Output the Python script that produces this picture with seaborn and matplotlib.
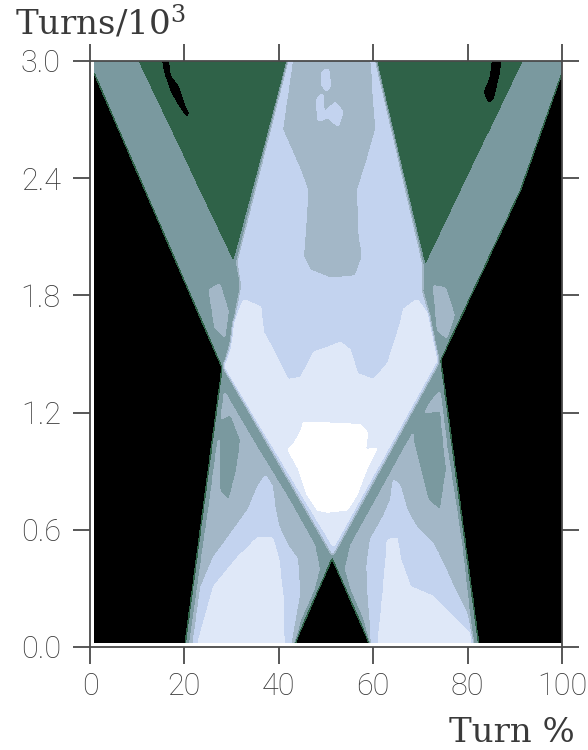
import numpy as np
import matplotlib
matplotlib.use("Agg")
import matplotlib.pyplot as plt
from matplotlib.path import Path
import seaborn as sns

# ---------------------------------------------------------------------------
# Intensity map: 7 discrete levels (0 = empty ... 6 = peak)
# ---------------------------------------------------------------------------
level_colors = ["#000000", "#2f6248", "#7a999f", "#a3b7c7",
                "#c3d3ef", "#dfe8f8", "#ffffff"]

x_ticks = [0, 20, 40, 60, 80, 100]
y_ticks = [0.0, 0.6, 1.2, 1.8, 2.4, 3.0]
y_tick_labels = ["0.0", "0.6", "1.2", "1.8", "2.4", "3.0"]

# sampled window of the map (Turn %, Turns/10^3)
grid_x_range = [1.0, 100.0]
grid_y_range = [0.025, 3.0]

# region outlines, painted in order; each carries one intensity level
envelope_x = [-1.0, 101.5, 91.1, 74.2, 82.6, 60.6, 51.3, 42.0, 19.9, 28.1]
envelope_y = [3.05, 3.05, 2.34, 1.47, -0.05, -0.05, 0.46, -0.05, -0.05, 1.43]

green_left_x = [9.1, 42.5, 30.4]
green_left_y = [3.05, 3.05, 1.97]
green_right_x = [60.0, 92.8, 71.0]
green_right_y = [3.05, 3.05, 1.95]

streak_left_x = [14.8, 16.6, 17.2, 19.0, 20.2, 21.2, 20.4, 18.4, 17.0, 15.6]
streak_left_y = [3.05, 3.05, 2.93, 2.87, 2.78, 2.73, 2.71, 2.78, 2.84, 2.94]
streak_right_x = [85.3, 87.6, 86.9, 85.6, 84.4, 83.2, 84.6]
streak_right_y = [3.05, 3.05, 2.93, 2.80, 2.78, 2.84, 2.92]

foot3_left_x = [28.5, 26.8, 25.4, 23.9, 22.4, 20.7, 42.7, 44.6, 47.4, 48.6, 47.6, 42.3, 35.7, 29.6]
foot3_left_y = [1.31, 1.01, 0.75, 0.50, 0.24, -0.05, -0.05, 0.14, 0.29, 0.40, 0.52, 0.75, 1.01, 1.26]
foot3_right_x = [74.2, 75.7, 77.4, 78.9, 80.1, 81.4, 60.0, 58.1, 55.4, 54.1, 55.2, 60.5, 66.4, 72.3]
foot3_right_y = [1.31, 1.01, 0.75, 0.50, 0.24, -0.05, -0.05, 0.14, 0.29, 0.40, 0.52, 0.75, 1.01, 1.26]

patch2_left_x = [27.3, 29.8, 31.9, 31.1, 29.4, 27.5]
patch2_left_y = [1.16, 1.19, 1.06, 0.91, 0.75, 0.80]
patch2_right_x = [68.9, 74.2, 75.5, 74.2, 71.7, 70.0, 68.5]
patch2_right_y = [1.19, 1.21, 0.91, 0.70, 0.75, 0.91, 1.06]

shoulder_left_x = [25.2, 27.5, 29.3, 28.6, 26.4]
shoulder_left_y = [1.83, 1.86, 1.72, 1.58, 1.64]
shoulder_right_x = [72.7, 75.3, 77.2, 75.6, 73.6]
shoulder_right_y = [1.85, 1.84, 1.70, 1.58, 1.62]

beam_x = [42.5, 31.2, 32.0, 31.0, 30.0, 28.4, 51.4, 73.9, 72.8, 71.8, 70.4, 70.5, 60.0]
beam_y = [3.05, 1.97, 1.85, 1.72, 1.57, 1.43, 0.47, 1.46, 1.57, 1.70, 1.82, 1.95, 3.05]

core_x = [43.2, 40.8, 44.6, 46.1, 45.7, 45.2, 46.7, 50.9, 56.2, 57.7, 56.9, 56.7, 58.4, 60.5, 59.4]
core_y = [3.05, 2.65, 2.44, 2.34, 2.13, 2.00, 1.93, 1.89, 1.90, 2.00, 2.13, 2.34, 2.47, 2.65, 3.05]

spot4_a_x = [49.2, 50.6, 51.0, 50.2, 49.0]
spot4_a_y = [2.95, 2.96, 2.88, 2.84, 2.88]
spot4_b_x = [47.9, 49.4, 49.6, 52.0, 53.6, 52.6, 50.5, 48.3]
spot4_b_y = [2.80, 2.84, 2.74, 2.79, 2.74, 2.66, 2.71, 2.69]

foot4_left_x = [21.4, 23.5, 26.2, 29.8, 33.4, 35.5, 37.2, 38.7, 39.1, 40.0, 41.9, 44.0, 44.4, 42.1]
foot4_left_y = [-0.05, 0.31, 0.46, 0.58, 0.70, 0.82, 0.88, 0.82, 0.73, 0.62, 0.52, 0.45, 0.27, -0.05]
foot4_right_x = [59.8, 59.0, 58.6, 59.4, 62.2, 63.6, 64.3, 65.8, 67.2, 69.3, 72.7, 74.8, 77.0, 79.9, 81.8]
foot4_right_y = [-0.05, 0.24, 0.41, 0.55, 0.67, 0.75, 0.86, 0.82, 0.70, 0.61, 0.53, 0.43, 0.31, 0.17, -0.05]

foot5_left_x = [22.0, 26.2, 31.3, 35.5, 38.7, 40.0, 41.0, 41.2]
foot5_left_y = [-0.05, 0.31, 0.46, 0.56, 0.56, 0.45, 0.24, -0.05]
foot5_right_x = [60.7, 62.2, 63.0, 65.1, 65.8, 67.9, 72.7, 76.3, 80.5, 81.2]
foot5_right_y = [-0.05, 0.31, 0.55, 0.56, 0.45, 0.31, 0.26, 0.17, 0.07, -0.05]

diamond_x = [32.6, 36.2, 36.8, 38.9, 41.9, 44.6, 47.4, 53.1, 55.2, 56.7, 60.0, 63.0,
             65.8, 66.4, 69.3, 71.5, 72.7, 73.6, 51.6, 28.3, 29.8, 30.4]
diamond_y = [1.78, 1.74, 1.61, 1.52, 1.37, 1.38, 1.51, 1.56, 1.52, 1.40, 1.37, 1.45,
             1.66, 1.73, 1.78, 1.71, 1.59, 1.47, 0.51, 1.44, 1.52, 1.66]

peak_x = [45.2, 46.7, 57.3, 58.8, 58.4, 60.9, 58.8, 56.6, 54.5, 50.3, 48.2, 46.0, 44.0, 41.9, 43.1, 44.6]
peak_y = [1.15, 1.15, 1.14, 1.10, 1.01, 1.02, 0.92, 0.78, 0.70, 0.69, 0.70, 0.78, 0.92, 1.01, 1.04, 1.10]

regions = [
    (envelope_x, envelope_y, 2),
    (green_left_x, green_left_y, 1),
    (green_right_x, green_right_y, 1),
    (streak_left_x, streak_left_y, 0),
    (streak_right_x, streak_right_y, 0),
    (foot3_left_x, foot3_left_y, 3),
    (foot3_right_x, foot3_right_y, 3),
    (patch2_left_x, patch2_left_y, 2),
    (patch2_right_x, patch2_right_y, 2),
    (shoulder_left_x, shoulder_left_y, 3),
    (shoulder_right_x, shoulder_right_y, 3),
    (beam_x, beam_y, 4),
    (core_x, core_y, 3),
    (spot4_a_x, spot4_a_y, 4),
    (spot4_b_x, spot4_b_y, 4),
    (foot4_left_x, foot4_left_y, 4),
    (foot4_right_x, foot4_right_y, 4),
    (foot5_left_x, foot5_left_y, 5),
    (foot5_right_x, foot5_right_y, 5),
    (diamond_x, diamond_y, 5),
    (peak_x, peak_y, 6),
]

# ---------------------------------------------------------------------------
# Build the gridded intensity field
# ---------------------------------------------------------------------------
nx, ny = 640, 760
gx = np.linspace(grid_x_range[0], grid_x_range[1], nx)
gy = np.linspace(grid_y_range[0], grid_y_range[1], ny)
GX, GY = np.meshgrid(gx, gy)
pts = np.column_stack([GX.ravel(), GY.ravel()])

field = np.zeros(GX.shape)
for rx, ry, lev in regions:
    inside = Path(np.column_stack([rx, ry])).contains_points(pts).reshape(GX.shape)
    field[inside] = lev


def smooth(a, sigma):
    """Separable Gaussian blur with edge padding."""
    r = int(3 * sigma) + 1
    k = np.exp(-0.5 * (np.arange(-r, r + 1) / sigma) ** 2)
    k /= k.sum()
    p = np.pad(a, r, mode="edge")
    tmp = sum(w * p[i:i + a.shape[0], :] for i, w in enumerate(k))
    return sum(w * tmp[:, i:i + a.shape[1]] for i, w in enumerate(k))


field = smooth(field, 1.5)

# ---------------------------------------------------------------------------
# Plot
# ---------------------------------------------------------------------------
sns.set_style("ticks")
plt.rcParams["mathtext.fontset"] = "dejavuserif"

fig = plt.figure(figsize=(5.88, 7.5), dpi=100)
ax = fig.add_axes([90 / 588, 103 / 750, 472 / 588, 586 / 750])

ax.contourf(GX, GY, field, levels=np.arange(-0.5, 7.0, 1.0), colors=level_colors)

ax.set_xlim(0, 100)
ax.set_ylim(0, 3.0)
ax.set_xticks(x_ticks)
ax.set_yticks(y_ticks)
ax.set_yticklabels(y_tick_labels)

edge_col = "#4a4a4a"
for s in ax.spines.values():
    s.set_visible(True)
    s.set_color(edge_col)
    s.set_linewidth(1.3)
ax.tick_params(axis="both", which="major", direction="out", length=12, width=1.3,
               color=edge_col, top=True, right=True, labeltop=False, labelright=False,
               labelsize=22, labelcolor="#3a3a3a")
ax.tick_params(axis="x", pad=6)
ax.tick_params(axis="y", pad=9)
for lab in ax.get_xticklabels() + ax.get_yticklabels():
    lab.set_family(["Roboto", "DejaVu Sans"])
    lab.set_fontweight("light")

fig.text(15 / 588, 1 - 35 / 750, r"Turns/10$^{3}$", family="DejaVu Serif",
         fontsize=24.5, color="#3a3a3a", ha="left", va="baseline")
fig.text(575 / 588, 1 - 742 / 750, "Turn %", family="DejaVu Serif",
         fontsize=24.5, color="#3a3a3a", ha="right", va="baseline")

fig.savefig("out.png", dpi=100)
